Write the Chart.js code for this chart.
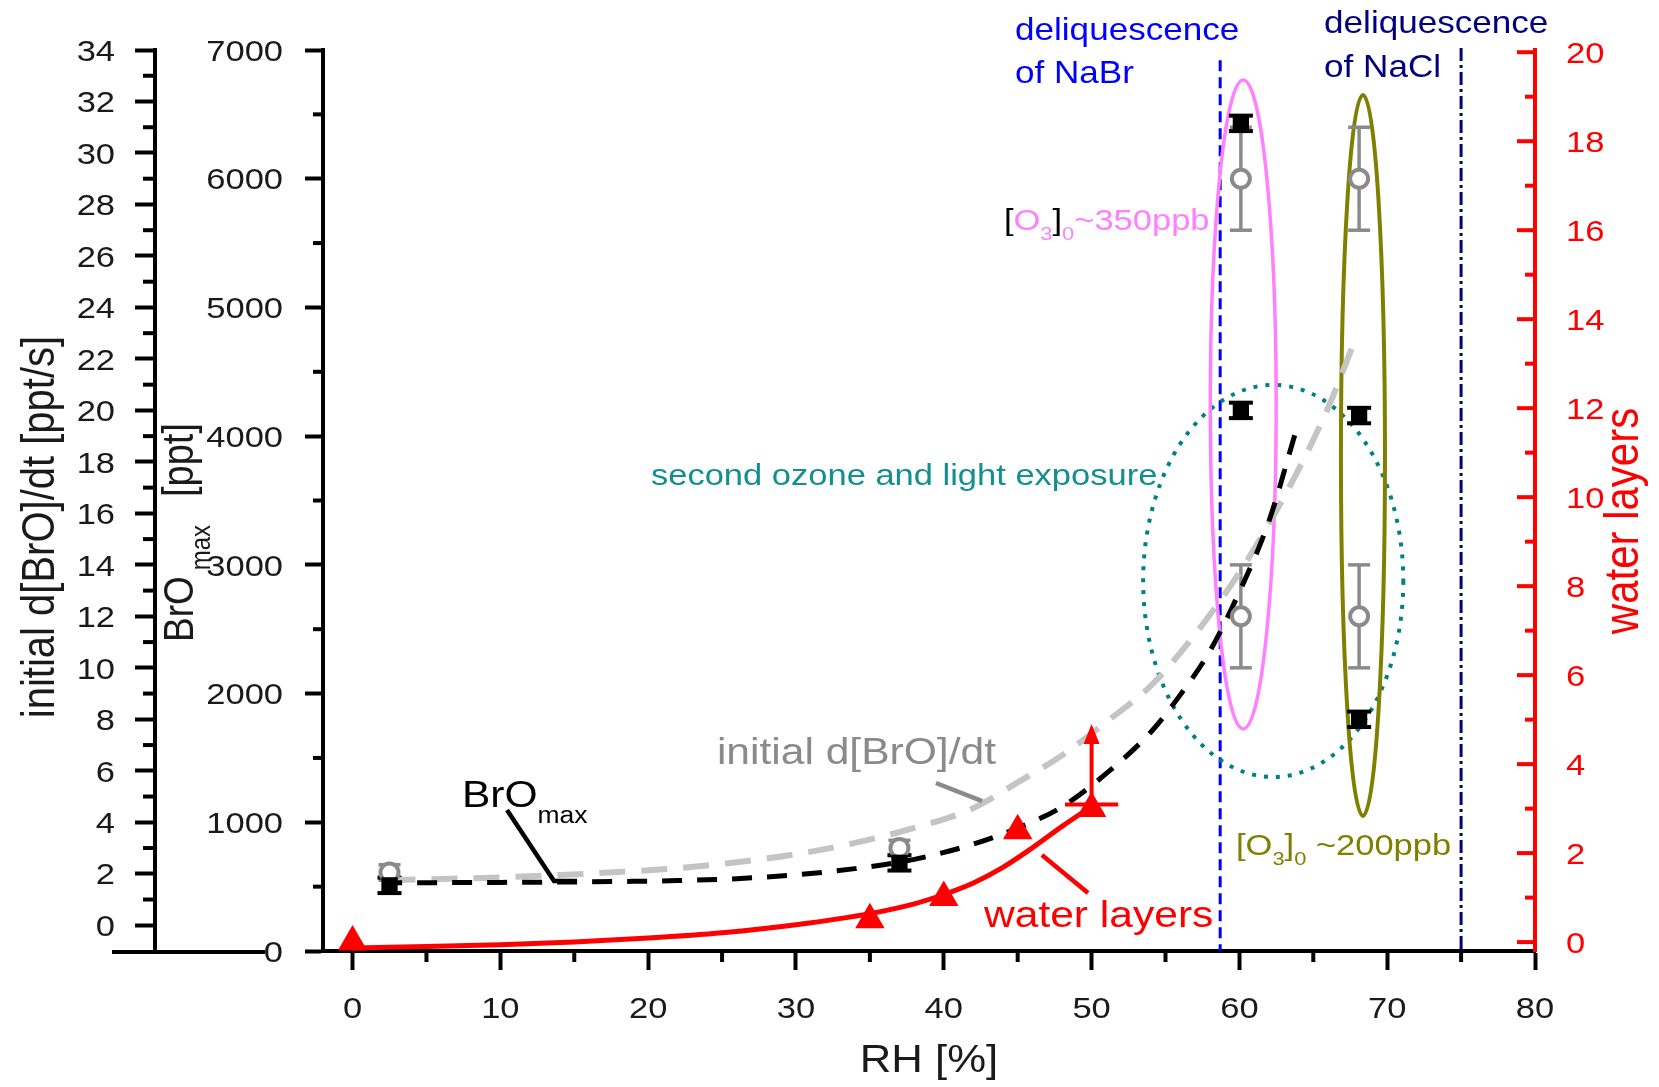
<!DOCTYPE html>
<html>
<head>
<meta charset="utf-8">
<script src="https://cdn.jsdelivr.net/npm/chart.js@4/dist/chart.umd.min.js"></script>
<style>
  html, body { margin: 0; padding: 0; background: #fff; }
  #wrap { width: 1659px; height: 1087px; }
</style>
</head>
<body>
<div id="wrap"><canvas id="c" width="1659" height="1087"></canvas></div>
<script>
// ---- measured samples ----
const sampleRH    = [2.5, 37, 60.1, 60.1, 68.1, 68.1];
const broMax      = [510, 685, 6430, 4200, 4160, 1800];   // BrO_max [ppt]
const broMaxErr   = [60, 60, 60, 60, 60, 60];
const rateRH      = [2.5, 37, 60.1, 60.1, 68.1, 68.1];
const initialRate = [2.05, 3.0, 29, 12, 29, 12];          // initial d[BrO]/dt [ppt/s]
const rateErr     = [0.3, 0.3, 2, 2, 2, 2];
const waterRH     = [0, 35, 40, 45, 50];
const waterLayers = [0, 0.5, 1.0, 2.5, 3.0];
const waterErrRH  = [0, 0, 0, 0, 1.8];
const waterLowerLimitTo = [null, null, null, null, 4.9];

// ---- fitted curves ----
const broFitRH  = [2, 6, 10, 14, 18, 22, 26, 30, 34, 38, 42, 45, 48, 51, 54, 56, 58, 60, 62, 63.8];
const broFit    = [530, 531, 533, 536, 540, 547, 562, 592, 640, 712, 830, 955, 1120, 1380, 1700, 1990, 2330, 2790, 3340, 4030];
const rateFitRH = [2.5, 6, 10, 14, 18, 22, 26, 30, 34, 38, 42, 45, 48, 51, 54, 57, 60, 62, 64, 66, 67.8];
const rateFit   = [1.75, 1.8, 1.86, 1.95, 2.07, 2.22, 2.45, 2.76, 3.2, 3.78, 4.55, 5.55, 6.6, 7.9, 9.3, 11.3, 13.7, 15.6, 17.7, 20.1, 22.7];
const waterFitRH = [0, 5, 10, 15, 20, 25, 30, 35, 38, 40, 42, 44, 46, 48, 50];
const waterFit   = [-0.13, -0.1, -0.06, 0.0, 0.09, 0.21, 0.39, 0.64, 0.86, 1.07, 1.33, 1.68, 2.12, 2.6, 3.05];

// ---- deliquescence points [% RH] ----
const deliqNaBr = 58.7;
const deliqNaCl = 75;

// ---- ticks ----
const rhTicks    = [0, 10, 20, 30, 40, 50, 60, 70, 80];
const rhMinor    = [5, 15, 25, 35, 45, 55, 65, 75];
const rateTicks  = [0, 2, 4, 6, 8, 10, 12, 14, 16, 18, 20, 22, 24, 26, 28, 30, 32, 34];
const rateMinor  = [1, 3, 5, 7, 9, 11, 13, 15, 17, 19, 21, 23, 25, 27, 29, 31, 33];
const broTicks   = [0, 1000, 2000, 3000, 4000, 5000, 6000, 7000];
const broMinor   = [500, 1500, 2500, 3500, 4500, 5500, 6500];
const waterTicks = [0, 2, 4, 6, 8, 10, 12, 14, 16, 18, 20];
const waterMinor = [1, 3, 5, 7, 9, 11, 13, 15, 17, 19];

const FONT = "'Liberation Sans', Arial, Helvetica, sans-serif";
const SX = 1.15;   // text is set slightly wide
const RED = '#ff0000', GRAY = '#8a8a8a', INK = '#1a1a1a';

const pts = (xs, ys) => xs.map((x, i) => ({ x, y: ys[i] }));

function line(ctx, x1, y1, x2, y2, color, w, dash) {
  ctx.save();
  ctx.beginPath();
  ctx.setLineDash(dash || []);
  ctx.moveTo(x1, y1); ctx.lineTo(x2, y2);
  ctx.strokeStyle = color; ctx.lineWidth = w; ctx.lineCap = 'butt';
  ctx.stroke();
  ctx.restore();
}

// rich text: segments drawn along the baseline, optional rotation, wide setting
function rich(ctx, segs, x, y, opts = {}) {
  const rot = opts.rot || 0, align = opts.align || 'left';
  ctx.save();
  ctx.translate(x, y);
  ctx.scale(SX, 1);
  if (rot) ctx.rotate(rot);
  ctx.textBaseline = 'alphabetic';
  ctx.textAlign = 'left';
  let total = 0;
  for (const s of segs) { ctx.font = `${s.size}px ${FONT}`; total += ctx.measureText(s.t).width + (s.gap || 0); }
  let cx = align === 'center' ? -total / 2 : align === 'right' ? -total : 0;
  for (const s of segs) {
    ctx.font = `${s.size}px ${FONT}`;
    ctx.fillStyle = s.color;
    if (s.at !== undefined) cx = s.at;
    ctx.fillText(s.t, cx, s.dy || 0);
    cx += ctx.measureText(s.t).width + (s.gap || 0);
  }
  ctx.restore();
}
const txt = (ctx, t, x, y, size, color, align) => rich(ctx, [{ t, size, color }], x, y, { align });

const overlay = {
  id: 'overlay',
  beforeDatasetsDraw(chart) {
    const { ctx, scales: { x, yBro, yRate, yWater } } = chart;
    const X = v => x.getPixelForValue(v);

    // deliquescence lines
    line(ctx, X(deliqNaBr), yBro.getPixelForValue(6920), X(deliqNaBr), yBro.getPixelForValue(0), '#0000ff', 3, [11, 6]);
    line(ctx, X(deliqNaCl), yBro.getPixelForValue(7015), X(deliqNaCl), yBro.getPixelForValue(0), '#00007f', 3, [13, 4, 3, 4]);

    // grouping ellipses (RH, BrO units)
    const ell = (cx, cy, rx, ry, color, w, dash) => {
      const px = X(cx), py = yBro.getPixelForValue(cy);
      const prx = Math.abs(X(cx + rx) - px), pry = Math.abs(yBro.getPixelForValue(cy + ry) - py);
      ctx.save();
      ctx.beginPath();
      ctx.setLineDash(dash || []);
      ctx.ellipse(px, py, prx, pry, 0, 0, Math.PI * 2);
      ctx.strokeStyle = color; ctx.lineWidth = w;
      ctx.stroke();
      ctx.restore();
    };
    ell(62.29, 2875, 8.8, 1523, '#008080', 4, [4, 8]);
    ell(60.26, 4246, 2.23, 2521, '#ff80ff', 3.5);
    ell(68.36, 3850, 1.49, 2801, '#808000', 4);

    // error bars: initial rate
    rateRH.forEach((rh, i) => {
      const px = X(rh), lo = yRate.getPixelForValue(initialRate[i] - rateErr[i]), hi = yRate.getPixelForValue(initialRate[i] + rateErr[i]);
      line(ctx, px, lo, px, hi, GRAY, 3.5);
      line(ctx, px - 11, lo, px + 11, lo, GRAY, 3.5);
      line(ctx, px - 11, hi, px + 11, hi, GRAY, 3.5);
    });
    // error bars: BrO max
    sampleRH.forEach((rh, i) => {
      const px = X(rh), lo = yBro.getPixelForValue(broMax[i] - broMaxErr[i]), hi = yBro.getPixelForValue(broMax[i] + broMaxErr[i]);
      line(ctx, px, lo, px, hi, '#000', 3);
      line(ctx, px - 12, lo, px + 12, lo, '#000', 4);
      line(ctx, px - 12, hi, px + 12, hi, '#000', 4);
    });
  },

  afterDatasetsDraw(chart) {
    const { ctx, scales: { x, yBro, yRate, yWater } } = chart;
    const X = v => x.getPixelForValue(v);
    const B = v => yBro.getPixelForValue(v);

    // water layers: RH error bar and lower-limit arrow
    waterRH.forEach((rh, i) => {
      const py = yWater.getPixelForValue(waterLayers[i]);
      if (waterErrRH[i]) line(ctx, X(rh - waterErrRH[i]), py - 4, X(rh + waterErrRH[i]), py - 4, RED, 4);
      if (waterLowerLimitTo[i] !== null) {
        const top = yWater.getPixelForValue(waterLowerLimitTo[i]);
        line(ctx, X(rh), py, X(rh), top + 16, RED, 4);
        ctx.save();
        ctx.beginPath();
        ctx.moveTo(X(rh), top); ctx.lineTo(X(rh) - 8, top + 20); ctx.lineTo(X(rh) + 8, top + 20); ctx.closePath();
        ctx.fillStyle = RED; ctx.fill();
        ctx.restore();
      }
    });

    // pointer lines for the curve labels
    ctx.save();
    ctx.beginPath();
    ctx.moveTo(X(10.45), B(1095)); ctx.lineTo(X(13.63), B(544)); ctx.lineTo(X(15.18), B(544));
    ctx.strokeStyle = '#000'; ctx.lineWidth = 4.5; ctx.lineJoin = 'miter'; ctx.stroke();
    ctx.restore();
    line(ctx, X(39.47), B(1305), X(42.6), B(1165), GRAY, 4.5);
    line(ctx, X(46.64), B(746), X(49.76), B(451), RED, 4.5);

    // curve labels
    txt(ctx, 'initial d[BrO]/dt', X(24.65), B(1453), 37, GRAY);
    rich(ctx, [{ t: 'BrO', size: 37, color: '#000' }, { t: 'max', size: 23, color: '#000', dy: 16 }], X(7.4), B(1119));
    txt(ctx, 'water layers', X(42.72), B(186), 37, RED);
    txt(ctx, 'second ozone and light exposure', X(20.19), B(3620), 30, '#138f8f');
    rich(ctx, [
      { t: '[', size: 30, color: '#000' }, { t: 'O', size: 30, color: '#ff80ff' },
      { t: '3', size: 19, color: '#ff80ff', dy: 10 }, { t: ']', size: 30, color: '#000' },
      { t: '0', size: 19, color: '#ff80ff', dy: 10 }, { t: '~350ppb', size: 30, color: '#ff80ff' }
    ], X(44.07), B(5601));
    rich(ctx, [
      { t: '[O', size: 30, color: '#808000' }, { t: '3', size: 19, color: '#808000', dy: 10 },
      { t: ']', size: 30, color: '#808000' }, { t: '0', size: 19, color: '#808000', dy: 10 },
      { t: ' ~200ppb', size: 30, color: '#808000' }
    ], X(59.77), B(746));
    txt(ctx, 'deliquescence', X(44.82), B(7078), 30.5, '#0000ff');
    txt(ctx, 'of NaBr', X(44.82), B(6744), 30.5, '#0000ff');
    txt(ctx, 'deliquescence', X(65.73), B(7132), 30.5, '#00007f');
    txt(ctx, 'of NaCl', X(65.73), B(6790), 30.5, '#00007f');
  },

  afterDraw(chart) {
    const { ctx, scales: { x, yBro, yRate, yWater } } = chart;

    // minor ticks
    rhMinor.forEach(v => line(ctx, x.getPixelForValue(v), x.top, x.getPixelForValue(v), x.top + 11, '#000', 4));
    rateMinor.forEach(v => line(ctx, yRate.right - 12, yRate.getPixelForValue(v), yRate.right, yRate.getPixelForValue(v), '#000', 4));
    broMinor.forEach(v => line(ctx, yBro.right - 10, yBro.getPixelForValue(v), yBro.right, yBro.getPixelForValue(v), '#000', 4));
    // right axis ticks point inward
    waterTicks.forEach(v => line(ctx, yWater.left - 18, yWater.getPixelForValue(v), yWater.left, yWater.getPixelForValue(v), RED, 4));
    waterMinor.forEach(v => line(ctx, yWater.left - 10, yWater.getPixelForValue(v), yWater.left, yWater.getPixelForValue(v), RED, 4));
    // base line of the outer left axis
    line(ctx, yRate.right - 43, yRate.bottom + 1, yRate.right + 110, yRate.bottom + 1, '#000', 4);

    // tick labels
    rhTicks.forEach(v => txt(ctx, String(v), x.getPixelForValue(v), x.top + 67, 30, INK, 'center'));
    rateTicks.forEach(v => txt(ctx, String(v), yRate.right - 40, yRate.getPixelForValue(v) + 10.7, 30, INK, 'right'));
    broTicks.forEach(v => txt(ctx, String(v), yBro.right - 40, yBro.getPixelForValue(v) + 10.7, 30, INK, 'right'));
    waterTicks.forEach(v => txt(ctx, String(v), yWater.left + 31, yWater.getPixelForValue(v) + 10.7, 30, RED, 'left'));

    // axis titles
    txt(ctx, 'RH [%]', (x.left + x.right) / 2, 1072, 38, INK, 'center');
    rich(ctx, [{ t: 'initial d[BrO]/dt [ppt/s]', size: 40, color: INK }], 54, 527, { rot: -Math.PI / 2, align: 'center' });
    rich(ctx, [
      { t: 'BrO', size: 37, color: INK, gap: 6 },
      { t: 'max', size: 24, color: INK, dy: 15 },
      { t: '[ppt]', size: 38, color: INK, at: 145 }
    ], 193, 642, { rot: -Math.PI / 2 });
    rich(ctx, [{ t: 'water layers', size: 42, color: RED }], 1638, 521, { rot: -Math.PI / 2, align: 'center' });
  }
};

const axisBase = (width, tickLen) => ({
  grid: { display: true, drawOnChartArea: false, drawTicks: true, tickLength: tickLen, tickWidth: 4, tickColor: '#000' },
  border: { display: true, width: 4, color: '#000' },
  ticks: { display: false },
});

new Chart(document.getElementById('c'), {
  type: 'scatter',
  data: {
    datasets: [
      { label: 'BrO max', data: pts(sampleRH, broMax), yAxisID: 'yBro', pointStyle: 'rect', pointRadius: 11.5, pointHoverRadius: 11.5,
        backgroundColor: '#000', borderColor: '#000', borderWidth: 0, order: 0 },
      { label: 'initial d[BrO]/dt', data: pts(rateRH, initialRate), yAxisID: 'yRate', pointStyle: 'circle', pointRadius: 9, pointHoverRadius: 9,
        backgroundColor: '#fff', borderColor: GRAY, borderWidth: 4, order: 0 },
      { label: 'water layers', data: pts(waterRH, waterLayers), yAxisID: 'yWater', pointStyle: 'triangle', pointRadius: 17, pointHoverRadius: 17,
        backgroundColor: RED, borderColor: RED, borderWidth: 0, order: 0 },
      { label: 'water layers fit', data: pts(waterFitRH, waterFit), yAxisID: 'yWater', showLine: true, pointRadius: 0,
        borderColor: RED, borderWidth: 5, cubicInterpolationMode: 'monotone', order: 1 },
      { label: 'BrO max fit', data: pts(broFitRH, broFit), yAxisID: 'yBro', showLine: true, pointRadius: 0,
        borderColor: '#000', borderWidth: 5, borderDash: [20, 15], cubicInterpolationMode: 'monotone', order: 2 },
      { label: 'initial rate fit', data: pts(rateFitRH, rateFit), yAxisID: 'yRate', showLine: true, pointRadius: 0,
        borderColor: '#c4c4c4', borderWidth: 6, borderDash: [26, 16], cubicInterpolationMode: 'monotone', order: 3 }
    ]
  },
  options: {
    responsive: false,
    devicePixelRatio: 1,
    animation: false,
    layout: { padding: { top: 50, left: 0, right: 0, bottom: 0 } },
    plugins: { legend: { display: false }, tooltip: { enabled: false } },
    elements: { line: { tension: 0 } },
    scales: {
      x: Object.assign(axisBase(0, 19), {
        type: 'linear', position: 'bottom', min: -2, max: 80,
        afterBuildTicks: s => { s.ticks = rhTicks.map(v => ({ value: v })); },
        afterFit: s => { s.height = 136; }
      }),
      yRate: Object.assign(axisBase(0, 20), {
        type: 'linear', position: 'left', min: -1, max: 34, weight: 2,
        afterBuildTicks: s => { s.ticks = rateTicks.map(v => ({ value: v })); },
        afterFit: s => { s.width = 155; }
      }),
      yBro: Object.assign(axisBase(0, 18), {
        type: 'linear', position: 'left', min: 0, max: 7000, weight: 1,
        afterBuildTicks: s => { s.ticks = broTicks.map(v => ({ value: v })); },
        afterFit: s => { s.width = 168; }
      }),
      yWater: {
        type: 'linear', position: 'right', min: -0.2, max: 20.05,
        grid: { display: true, drawOnChartArea: false, drawTicks: false },
        border: { display: true, width: 4, color: RED },
        ticks: { display: false },
        afterBuildTicks: s => { s.ticks = waterTicks.map(v => ({ value: v })); },
        afterFit: s => { s.width = 124; }
      }
    }
  },
  plugins: [overlay]
});
</script>
</body>
</html>
